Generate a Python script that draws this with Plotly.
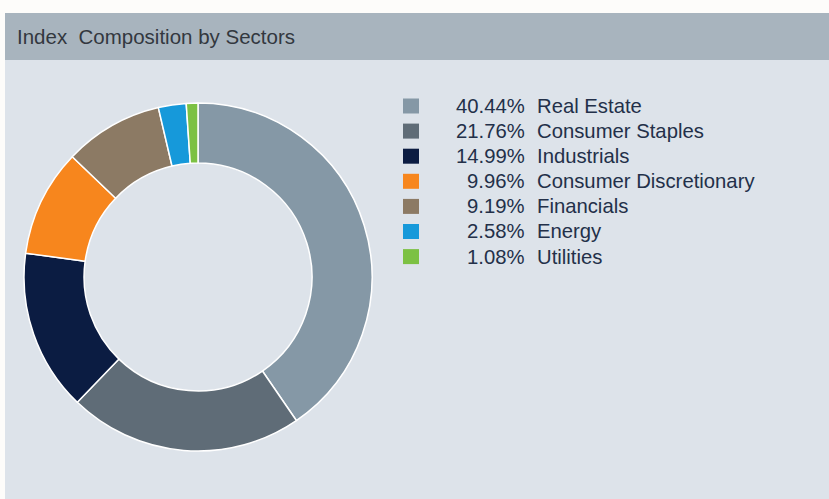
import plotly.graph_objects as go

sectors = ["Real Estate", "Consumer Staples", "Industrials", "Consumer Discretionary",
           "Financials", "Energy", "Utilities"]
weights = [40.44, 21.76, 14.99, 9.96, 9.19, 2.58, 1.08]
colors = ["#8598a6", "#5f6c77", "#0b1c42", "#f7861d", "#8c7a64", "#1699da", "#7cc143"]
title_text = "Index  Composition by Sectors"

W, H = 829, 499
FONT = "Arial, Liberation Sans, sans-serif"

def px(x):
    return x / W

def py(y):
    return 1 - y / H

fig = go.Figure()

# donut geometry (pixels)
cx, cy, r = 198, 277, 174
fig.add_trace(go.Pie(
    labels=sectors,
    values=weights,
    marker=dict(colors=colors, line=dict(color="#ffffff", width=1.5)),
    hole=0.655,
    sort=False,
    direction="clockwise",
    rotation=0,
    textinfo="none",
    hoverinfo="label+percent",
    showlegend=False,
    domain=dict(x=[px(cx - r), px(cx + r)], y=[py(cy + r), py(cy - r)]),
))

shapes = [
    # panel background
    dict(type="rect", xref="paper", yref="paper", x0=px(5), x1=1, y0=0, y1=py(60),
         fillcolor="#dde3ea", line=dict(width=0), layer="below"),
    # header bar
    dict(type="rect", xref="paper", yref="paper", x0=px(5), x1=1, y0=py(60), y1=py(13),
         fillcolor="#a8b4be", line=dict(width=0), layer="below"),
]

annotations = [
    dict(text=title_text, xref="paper", yref="paper", x=px(15), y=py(37),
         xanchor="left", yanchor="middle", showarrow=False,
         font=dict(family=FONT, size=20.5, color="#33383f")),
]

row0, step = 106, 25.1
for i, (name, w, c) in enumerate(zip(sectors, weights, colors)):
    yc = row0 + i * step
    shapes.append(dict(type="rect", xref="paper", yref="paper",
                       x0=px(403), x1=px(419), y0=py(yc + 7.5), y1=py(yc - 7.5),
                       fillcolor=c, line=dict(width=0)))
    annotations.append(dict(text=f"{w:.2f}%", xref="paper", yref="paper",
                            x=px(527), y=py(yc), xanchor="right", yanchor="middle",
                            showarrow=False,
                            font=dict(family=FONT, size=20.3, color="#233049")))
    annotations.append(dict(text=name, xref="paper", yref="paper",
                            x=px(535), y=py(yc), xanchor="left", yanchor="middle",
                            showarrow=False,
                            font=dict(family=FONT, size=20.3, color="#233049")))

fig.update_layout(
    width=W, height=H,
    margin=dict(l=0, r=0, t=0, b=0),
    paper_bgcolor="#fdfcfa",
    plot_bgcolor="#fdfcfa",
    shapes=shapes,
    annotations=annotations,
    showlegend=False,
)

fig.write_html("out.html",
               config={"displayModeBar": False},
               post_script="document.body.style.margin='0px';document.body.style.padding='0px';document.body.style.overflow='hidden';")
